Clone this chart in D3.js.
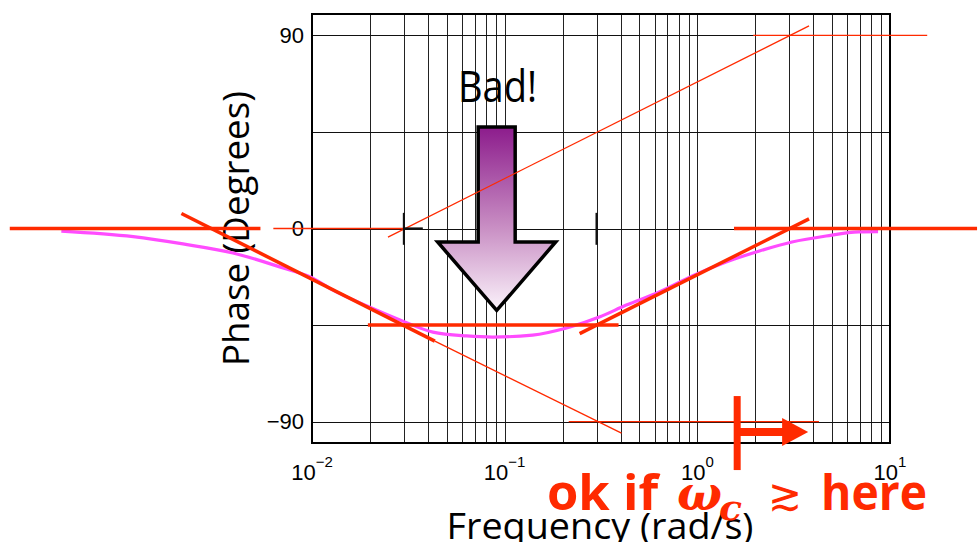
<!DOCTYPE html>
<html>
<head>
<meta charset="utf-8">
<script src="https://cdn.jsdelivr.net/npm/d3@7/dist/d3.min.js"></script>
<style>
  body { margin: 0; background: #fff; }
  svg { display: block; }
</style>
</head>
<body>
<div id="chart"></div>
<script>
// tick values / labels
var xTickVals = [1e-2, 1e-1, 1, 10];
var xTickExps = ["\u22122", "\u22121", "0", "1"];
var yTickVals = [-90, 0, 90];
var yTickLabels = ["\u221290", "0", "90"];
var yGridVals = [-90, -45, 0, 45, 90];

// phase curve (rad/s, degrees)
var curveFreq = [0.0005, 0.00118, 0.00214, 0.00389, 0.00708, 0.0098, 0.01285, 0.0193, 0.0286, 0.0424,
    0.0635, 0.0867, 0.1396, 0.2096, 0.310, 0.428, 0.635, 0.942, 1.41, 2.10, 3.10, 4.66, 6.90, 8.67];
var curvePhase = [-1.2, -3.8, -7.2, -11.4, -18.4, -22.6, -28.7, -36.1, -42.6, -48.3,
    -50.1, -50.6, -49.7, -46.4, -41.3, -35.7, -29.6, -22.1, -15.6, -10.5, -6.3, -3.5, -1.6, -1.5];

// straight line asymptotes: [freq1, phase1, freq2, phase2]
var thickAsym = [
    [0.00027, 0, 0.0054, 0],
    [0.0021, 7, 0.0434, -52.5],
    [0.0195, -45, 0.39, -45],
    [0.245, -49, 3.8, 4.5],
    [1.55, 0, 28.3, 0]
];
var thinAsym = [
    [0.0063, 0, 0.03, 0],
    [0.0248, -4, 3.8, 94.5],
    [1.95, 90, 15.6, 90],
    [0.0434, -52.5, 0.404, -95.4],
    [0.215, -90, 4.28, -90]
];
// break frequency markers
var breakFreq = [0.03, 0.3];

// annotations (data units)
var badFreq = 0.0909;
var wcFreq = 1.61, wcArrowEnd = 3.76, wcPhase = -94.9;

var W = 978, H = 542;
var svg = d3.select("#chart").append("svg")
    .attr("width", W)
    .attr("height", H);

var x = d3.scaleLog().domain([1e-2, 10]).range([312, 890]);
var y = d3.scaleLinear().domain([-100, 100]).range([443, 14]);

var red = "#ff2a00";

// gradient for the arrow
var defs = svg.append("defs");
var grad = defs.append("linearGradient")
    .attr("id", "arrowGrad")
    .attr("x1", 0).attr("y1", 0).attr("x2", 0).attr("y2", 1);
grad.append("stop").attr("offset", "0%").attr("stop-color", "#8c1c8c");
grad.append("stop").attr("offset", "55%").attr("stop-color", "#c98fc4");
grad.append("stop").attr("offset", "100%").attr("stop-color", "#fbf3fb");

// grid
var grid = svg.append("g").attr("shape-rendering", "crispEdges");
grid.selectAll(".vg")
    .data(x.ticks())
    .enter().append("line")
    .attr("x1", d => Math.round(x(d)) + 0.5)
    .attr("x2", d => Math.round(x(d)) + 0.5)
    .attr("y1", y(100)).attr("y2", y(-100))
    .attr("stroke", "#222").attr("stroke-width", 1);
grid.selectAll(".hg")
    .data(yGridVals)
    .enter().append("line")
    .attr("x1", x(1e-2)).attr("x2", x(10))
    .attr("y1", d => Math.round(y(d)) + 0.5)
    .attr("y2", d => Math.round(y(d)) + 0.5)
    .attr("stroke", "#111").attr("stroke-width", 1);

// frame
svg.append("rect")
    .attr("x", x(1e-2)).attr("y", y(100))
    .attr("width", x(10) - x(1e-2))
    .attr("height", y(-100) - y(100))
    .attr("fill", "none")
    .attr("stroke", "#000")
    .attr("stroke-width", 2);

// tick labels
var xl = svg.append("g").attr("font-family", "Liberation Sans, Arial, sans-serif").attr("fill", "#000");
xTickVals.forEach(function(v, i) {
    var t = xl.append("text")
        .attr("x", x(v)).attr("y", 480)
        .attr("text-anchor", "middle")
        .attr("font-size", 22);
    t.append("tspan").text("10");
    t.append("tspan").attr("dy", -13).attr("font-size", 15).text(xTickExps[i]);
});
yTickVals.forEach(function(v, i) {
    xl.append("text")
        .attr("x", 304).attr("y", y(v))
        .attr("dy", "0.36em")
        .attr("text-anchor", "end")
        .attr("font-size", 22)
        .text(yTickLabels[i]);
});

// axis titles
svg.append("text")
    .attr("transform", "translate(249," + y(0) + ") rotate(-90)")
    .attr("text-anchor", "middle")
    .attr("font-family", "Open Sans, sans-serif")
    .attr("font-size", 36)
    .attr("textLength", 275)
    .attr("lengthAdjust", "spacingAndGlyphs")
    .text("Phase (Degrees)");
svg.append("text")
    .attr("x", 600).attr("y", 539)
    .attr("text-anchor", "middle")
    .attr("font-family", "Open Sans, sans-serif")
    .attr("font-size", 36)
    .attr("textLength", 307)
    .attr("lengthAdjust", "spacingAndGlyphs")
    .text("Frequency (rad/s)");

// "Bad!" arrow
var ax = x(badFreq);
var aTop = y(47.3), aNeck = y(-6.3), aTip = y(-38.2);
var sw = 18.5, hw = 59;
var arrowPts = [
    [ax - sw, aTop], [ax + sw, aTop], [ax + sw, aNeck], [ax + hw, aNeck],
    [ax, aTip], [ax - hw, aNeck], [ax - sw, aNeck]
];
svg.append("path")
    .attr("d", d3.line()(arrowPts) + "Z")
    .attr("fill", "url(#arrowGrad)")
    .attr("stroke", "#000")
    .attr("stroke-width", 3.5)
    .attr("stroke-linejoin", "miter");
svg.append("text")
    .attr("x", 497.5).attr("y", 102)
    .attr("text-anchor", "middle")
    .attr("font-family", "Open Sans, sans-serif")
    .attr("font-size", 44)
    .attr("textLength", 79)
    .attr("lengthAdjust", "spacingAndGlyphs")
    .attr("fill", "#000")
    .text("Bad!");

// thin asymptotes
svg.append("g").selectAll("line")
    .data(thinAsym)
    .enter().append("line")
    .attr("x1", d => x(d[0])).attr("y1", d => y(d[1]))
    .attr("x2", d => x(d[2])).attr("y2", d => y(d[3]))
    .attr("stroke", red).attr("stroke-width", 1.3);

// break markers
var bm = svg.append("g").attr("stroke", "#111").attr("stroke-width", 2.2);
bm.selectAll("line")
    .data(breakFreq)
    .enter().append("line")
    .attr("x1", d => x(d)).attr("x2", d => x(d))
    .attr("y1", y(7.3)).attr("y2", y(-7.6));
bm.append("line")
    .attr("x1", x(breakFreq[0])).attr("x2", x(0.0376))
    .attr("y1", y(0)).attr("y2", y(0));

// phase curve
var line = d3.line()
    .x((d, i) => x(curveFreq[i]))
    .y(d => y(d))
    .curve(d3.curveMonotoneX);
svg.append("path")
    .datum(curvePhase)
    .attr("d", line)
    .attr("fill", "none")
    .attr("stroke", "#ff4cff")
    .attr("stroke-width", 3.2);

// thick asymptotes
svg.append("g").selectAll("line")
    .data(thickAsym)
    .enter().append("line")
    .attr("x1", d => x(d[0])).attr("y1", d => y(d[1]))
    .attr("x2", d => x(d[2])).attr("y2", d => y(d[3]))
    .attr("stroke", red).attr("stroke-width", 3.5);

// crossover marker and arrow
var wx = x(wcFreq), wy = y(wcPhase), we = x(wcArrowEnd);
svg.append("line")
    .attr("x1", wx).attr("x2", wx)
    .attr("y1", wy - 36).attr("y2", wy + 38)
    .attr("stroke", red).attr("stroke-width", 7);
svg.append("line")
    .attr("x1", wx).attr("x2", we - 24)
    .attr("y1", wy).attr("y2", wy)
    .attr("stroke", red).attr("stroke-width", 8);
svg.append("path")
    .attr("d", d3.line()([[we - 26, wy - 14], [we, wy], [we - 26, wy + 14]]) + "Z")
    .attr("fill", red);

// "ok if w_c >~ here"
var ok = svg.append("g").attr("fill", red).attr("font-weight", "bold");
ok.append("text")
    .attr("x", 547).attr("y", 510)
    .attr("font-family", "Open Sans, sans-serif")
    .attr("font-size", 48)
    .attr("textLength", 111)
    .attr("lengthAdjust", "spacingAndGlyphs")
    .text("ok if");
ok.append("text")
    .attr("x", 677).attr("y", 510)
    .attr("font-family", "DejaVu Serif, serif")
    .attr("font-style", "italic")
    .attr("font-size", 48)
    .attr("textLength", 45)
    .attr("lengthAdjust", "spacingAndGlyphs")
    .text("\u03c9");
ok.append("text")
    .attr("x", 719).attr("y", 520)
    .attr("font-family", "DejaVu Serif, serif")
    .attr("font-style", "italic")
    .attr("font-size", 36)
    .attr("textLength", 23)
    .attr("lengthAdjust", "spacingAndGlyphs")
    .text("c");
ok.append("text")
    .attr("x", 768).attr("y", 510)
    .attr("font-family", "DejaVu Sans, sans-serif")
    .attr("font-weight", "normal")
    .attr("font-size", 44)
    .attr("textLength", 34)
    .attr("lengthAdjust", "spacingAndGlyphs")
    .text("\u2273");
ok.append("text")
    .attr("x", 821).attr("y", 510)
    .attr("font-family", "Open Sans, sans-serif")
    .attr("font-size", 48)
    .attr("textLength", 106)
    .attr("lengthAdjust", "spacingAndGlyphs")
    .text("here");
</script>
</body>
</html>
